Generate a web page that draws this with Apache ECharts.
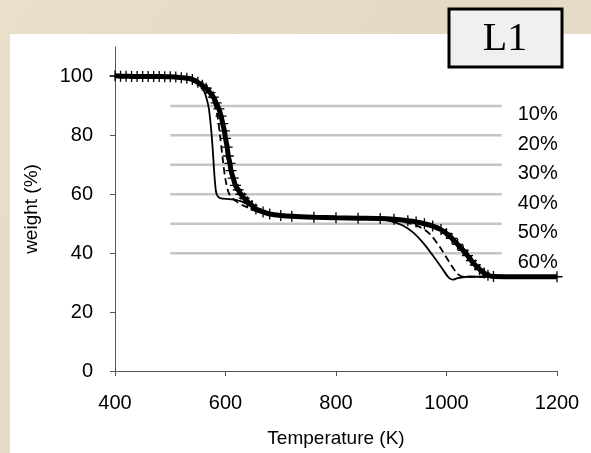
<!DOCTYPE html>
<html>
<head>
<meta charset="utf-8">
<script src="https://cdn.jsdelivr.net/npm/echarts@6/dist/echarts.min.js"></script>
<style>
  html, body { margin: 0; padding: 0; }
  #chart { width: 591px; height: 453px; }
</style>
</head>
<body>
<div id="chart"></div>
<script>
// TG curves: [temperature K, weight %]
const curveSolid = [
  [400, 100.2], [450, 100], [500, 99.7], [530, 99.2], [550, 97.5], [560, 95.5],
  [565, 93], [570, 89], [575, 80], [578, 72], [581, 64], [584, 60], [590, 58.7],
  [610, 58.3], [630, 57.5], [650, 55.5], [670, 53.8], [700, 52.8], [750, 52.2],
  [800, 52], [850, 51.8], [880, 51.5], [900, 50.8], [920, 49.5], [940, 47],
  [960, 43], [980, 38], [995, 34], [1005, 31.5], [1012, 31], [1020, 31.5],
  [1040, 32], [1100, 32], [1200, 32]
];
const curveDashed = [
  [400, 100], [500, 99.8], [540, 99], [560, 97], [575, 93], [585, 87], [590, 80],
  [595, 72], [600, 65], [607, 60], [620, 57.5], [640, 55.5], [660, 54], [700, 52.8],
  [800, 52], [880, 51.6], [920, 50.8], [950, 49], [970, 46.5], [990, 41.5],
  [1005, 37], [1020, 33], [1030, 32], [1100, 32], [1200, 32]
];
const curveMarked = [
  [400, 100.2], [410, 100.1], [420, 100.1], [430, 100], [440, 100], [450, 100],
  [460, 100], [470, 100], [480, 100], [490, 99.9], [500, 99.9], [510, 99.8],
  [520, 99.6], [530, 99.4], [540, 99], [550, 98], [558, 97], [565, 96], [572, 94.5],
  [578, 93], [583, 91], [588, 89], [592, 86.5], [595, 84], [598, 81.5], [600, 79],
  [603, 76], [605, 73], [608, 70.5], [610, 68], [614, 65.5], [618, 63], [623, 61.5],
  [628, 60], [634, 58.7], [640, 57.5], [648, 56.2], [655, 55], [668, 54], [680, 53.3],
  [700, 52.8], [720, 52.5], [760, 52.2], [800, 52], [840, 51.9], [880, 51.8],
  [905, 51.5], [930, 51], [945, 50.6], [960, 50], [975, 49.2], [990, 48],
  [1000, 46.7], [1010, 45], [1020, 43], [1030, 41], [1038, 39.2], [1045, 37.5],
  [1052, 36], [1060, 34.5], [1068, 33.3], [1075, 32.5], [1085, 32.1], [1200, 32]
];

// Horizontal reference levels and their labels
const levelValues = [90, 80, 70, 60, 50, 40];
const levelLabels = ['10%', '20%', '30%', '40%', '50%', '60%'];
const levelStart = 500;
const levelEnd = 1100;

const xTicks = [400, 600, 800, 1000, 1200];
const yTicks = [0, 20, 40, 60, 80, 100];

const FONT = '"Liberation Sans", Arial, sans-serif';

const chart = echarts.init(document.getElementById('chart'), null, { renderer: 'canvas' });

const levelSeries = levelValues.map((v, i) => ({
  type: 'line',
  name: levelLabels[i],
  data: [[levelStart, v], [levelEnd, v]],
  symbol: 'none',
  lineStyle: { color: '#c4c4c4', width: 2.5 },
  z: 1,
  silent: true,
  endLabel: {
    show: true,
    formatter: levelLabels[i],
    color: '#000',
    fontFamily: FONT,
    fontSize: 20,
    offset: [8, 9]
  }
}));

// small cross marker used along the thick curve
const crossPath = 'path://M0,5L10,5M5,0L5,10';

chart.setOption({
  backgroundColor: {
    type: 'linear', x: 0, y: 0, x2: 1, y2: 1,
    colorStops: [
      { offset: 0, color: '#e9dfca' },
      { offset: 0.5, color: '#e4d9c2' },
      { offset: 1, color: '#ebe2cf' }
    ]
  },
  animation: false,
  graphic: [
    {
      type: 'rect',
      z: -1,
      silent: true,
      shape: { x: 10, y: 34, width: 600, height: 440 },
      style: { fill: '#ffffff' }
    },
    {
      type: 'group',
      z: 100,
      children: [
        {
          type: 'rect',
          shape: { x: 449, y: 9, width: 113, height: 58 },
          style: { fill: '#f0f0f0', stroke: '#000', lineWidth: 3 }
        },
        {
          type: 'text',
          x: 505, y: 39,
          style: {
            text: 'L1',
            font: '40px "Liberation Serif", "DejaVu Serif", serif',
            fill: '#000',
            align: 'center',
            verticalAlign: 'middle'
          }
        }
      ]
    }
  ],
  grid: { left: 115, right: 34, top: 47, bottom: 81 },
  xAxis: {
    type: 'value',
    min: 400, max: 1200, interval: 200,
    name: 'Temperature (K)',
    nameLocation: 'middle',
    nameGap: 58,
    nameTextStyle: { color: '#000', fontFamily: FONT, fontSize: 19 },
    axisLine: { lineStyle: { color: '#555', width: 1 } },
    axisTick: { show: true, length: 5, lineStyle: { color: '#555' } },
    axisLabel: { color: '#000', fontFamily: FONT, fontSize: 20, margin: 22,
      customValues: xTicks, formatter: v => String(v) },
    splitLine: { show: false }
  },
  yAxis: {
    type: 'value',
    min: 0, max: 110, interval: 20,
    name: 'weight (%)',
    nameLocation: 'middle',
    nameGap: 74,
    nameTextStyle: { color: '#000', fontFamily: FONT, fontSize: 19 },
    axisLine: { show: true, lineStyle: { color: '#555', width: 1 } },
    axisTick: { show: true, length: 5, lineStyle: { color: '#555' }, customValues: yTicks },
    axisLabel: { color: '#000', fontFamily: FONT, fontSize: 20, margin: 22,
      customValues: yTicks, formatter: v => String(v) },
    splitLine: { show: false }
  },
  series: [
    ...levelSeries,
    {
      type: 'line',
      name: 'solid',
      data: curveSolid,
      symbol: 'none',
      smooth: 0.3,
      lineStyle: { color: '#000', width: 1.8 },
      z: 3
    },
    {
      type: 'line',
      name: 'dashed',
      data: curveDashed,
      symbol: 'none',
      smooth: 0.3,
      lineStyle: { color: '#000', width: 1.8, type: [7, 4] },
      z: 3
    },
    {
      type: 'line',
      name: 'marked',
      data: curveMarked,
      symbol: crossPath,
      symbolSize: 11,
      showAllSymbol: true,
      smooth: 0.3,
      itemStyle: { color: '#000', borderColor: '#000', borderWidth: 1.3 },
      lineStyle: { color: '#000', width: 5 },
      z: 4
    }
  ]
});
</script>
</body>
</html>
